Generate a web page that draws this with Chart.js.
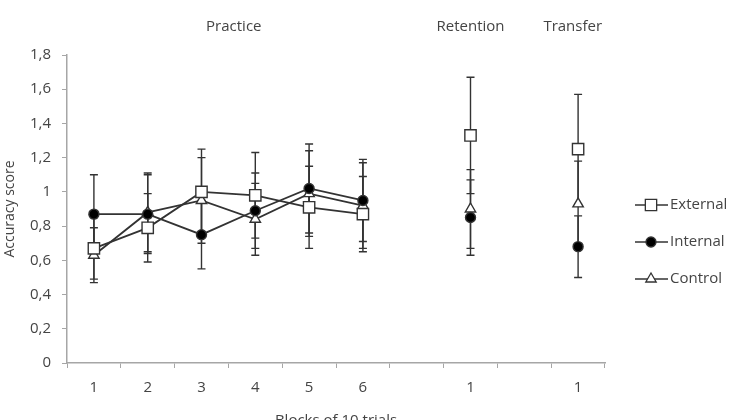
<!DOCTYPE html>
<html>
<head>
<meta charset="utf-8">
<script src="https://cdn.jsdelivr.net/npm/chart.js@4"></script>
<style>
  html, body { margin: 0; padding: 0; background: #fff; }
  #wrap { width: 734px; height: 420px; }
</style>
</head>
<body>
<div id="wrap"><canvas id="chart"></canvas></div>
<script>
// blocks 1-6 practice, then retention and transfer (empty slots keep the gaps)
var blocks = ['1', '2', '3', '4', '5', '6', '', '1', '', '1'];

var external    = [0.67, 0.79, 1.00, 0.98, 0.91, 0.87, null, 1.33, null, 1.25];
var externalErr = [0.18, 0.20, 0.25, 0.25, 0.24, 0.22, null, 0.34, null, 0.32];
var internal    = [0.87, 0.87, 0.75, 0.89, 1.02, 0.95, null, 0.85, null, 0.68];
var internalErr = [0.23, 0.23, 0.20, 0.22, 0.26, 0.24, null, 0.22, null, 0.18];
var control     = [0.63, 0.88, 0.95, 0.84, 0.99, 0.92, null, 0.90, null, 0.93];
var controlErr  = [0.16, 0.23, 0.25, 0.21, 0.25, 0.25, null, 0.23, null, 0.25];

var phaseNames = ['Practice', 'Retention', 'Transfer'];
var phaseAt = [2.6, 7, 8.9]; // category position of each heading

var textColor = '#444444',
    lineColor = '#333333',
    axisColor = '#a6a6a6',
    fontFamily = '"Open Sans", Lato, sans-serif';

var errors = [externalErr, internalErr, controlErr];

// error bars under the markers
var errorBars = {
    id: 'errorBars',
    beforeDatasetsDraw: function (chart) {
        var ctx = chart.ctx, y = chart.scales.y;
        ctx.save();
        ctx.strokeStyle = lineColor;
        ctx.lineWidth = 1.4;
        chart.data.datasets.forEach(function (ds, k) {
            var meta = chart.getDatasetMeta(k);
            ds.data.forEach(function (v, i) {
                if (v === null) return;
                var e = errors[k][i],
                    px = meta.data[i].x,
                    top = y.getPixelForValue(v + e),
                    bot = y.getPixelForValue(v - e);
                ctx.beginPath();
                ctx.moveTo(px, top); ctx.lineTo(px, bot);
                ctx.moveTo(px - 4, top); ctx.lineTo(px + 4, top);
                ctx.moveTo(px - 4, bot); ctx.lineTo(px + 4, bot);
                ctx.stroke();
            });
        });
        ctx.restore();
    }
};

// headings above the groups and the legend on the right
var extras = {
    id: 'extras',
    afterDraw: function (chart) {
        var ctx = chart.ctx, x = chart.scales.x;
        ctx.save();
        ctx.fillStyle = textColor;
        ctx.font = '15px ' + fontFamily;
        ctx.textAlign = 'center';
        ctx.textBaseline = 'middle';
        for (var i = 0; i < phaseNames.length; i++) {
            ctx.fillText(phaseNames[i], x.getPixelForValue(phaseAt[i]), 27);
        }

        ctx.textAlign = 'left';
        chart.data.datasets.forEach(function (ds, k) {
            var ly = 205 + k * 37;
            ctx.strokeStyle = lineColor;
            ctx.lineWidth = 1.6;
            ctx.beginPath();
            ctx.moveTo(635, ly); ctx.lineTo(668, ly);
            ctx.stroke();
            ctx.fillStyle = ds.pointBackgroundColor;
            ctx.strokeStyle = lineColor;
            ctx.lineWidth = 1.3;
            Chart.helpers.drawPoint(ctx, {
                pointStyle: ds.pointStyle,
                radius: ds.pointRadius,
                rotation: 0,
                borderWidth: 1.3
            }, 651, ly);
            ctx.fillStyle = textColor;
            ctx.fillText(ds.label, 670, ly);
        });
        ctx.restore();
    }
};

function series(label, data, style, fill, radius) {
    return {
        label: label,
        data: data,
        borderColor: lineColor,
        borderWidth: 1.8,
        pointStyle: style,
        pointRadius: radius,
        pointHoverRadius: radius,
        pointBackgroundColor: fill,
        pointBorderColor: lineColor,
        pointBorderWidth: 1.4,
        spanGaps: false,
        fill: false,
        tension: 0
    };
}

new Chart(document.getElementById('chart'), {
    type: 'line',
    data: {
        labels: blocks,
        datasets: [
            series('External', external, 'rect', '#ffffff', 8),
            series('Internal', internal, 'circle', '#000000', 5),
            series('Control', control, 'triangle', '#ffffff', 6)
        ]
    },
    options: {
        responsive: true,
        maintainAspectRatio: false,
        animation: false,
        events: [],
        layout: { padding: { left: 0, top: 55, right: 129, bottom: 0 } },
        plugins: {
            legend: { display: false },
            tooltip: { enabled: false }
        },
        scales: {
            x: {
                offset: true,
                grid: {
                    offset: true,
                    drawOnChartArea: false,
                    drawTicks: true,
                    tickLength: 5,
                    color: axisColor
                },
                border: { display: true, color: axisColor, width: 1.5 },
                ticks: {
                    color: textColor,
                    font: { family: fontFamily, size: 15 },
                    padding: 11,
                    maxRotation: 0,
                    autoSkip: false
                },
                title: {
                    display: true,
                    text: 'Blocks of 10 trials',
                    color: textColor,
                    font: { family: fontFamily, size: 15 },
                    padding: { top: 0, bottom: -10 }
                },
                afterFit: function (s) { s.height = 57; }
            },
            y: {
                min: 0,
                max: 1.8,
                grid: {
                    drawOnChartArea: false,
                    drawTicks: true,
                    tickLength: 5,
                    color: axisColor
                },
                border: { display: true, color: axisColor, width: 1.5 },
                ticks: {
                    stepSize: 0.2,
                    color: textColor,
                    font: { family: fontFamily, size: 15 },
                    padding: 11,
                    callback: function (v) {
                        return String(Math.round(v * 10) / 10).replace('.', ',');
                    }
                },
                title: {
                    display: true,
                    text: 'Accuracy score',
                    color: textColor,
                    font: { family: fontFamily, size: 14 },
                    padding: { top: 2, bottom: 0 }
                },
                afterFit: function (s) { s.width = 67; }
            }
        }
    },
    plugins: [errorBars, extras]
});
</script>
</body>
</html>
